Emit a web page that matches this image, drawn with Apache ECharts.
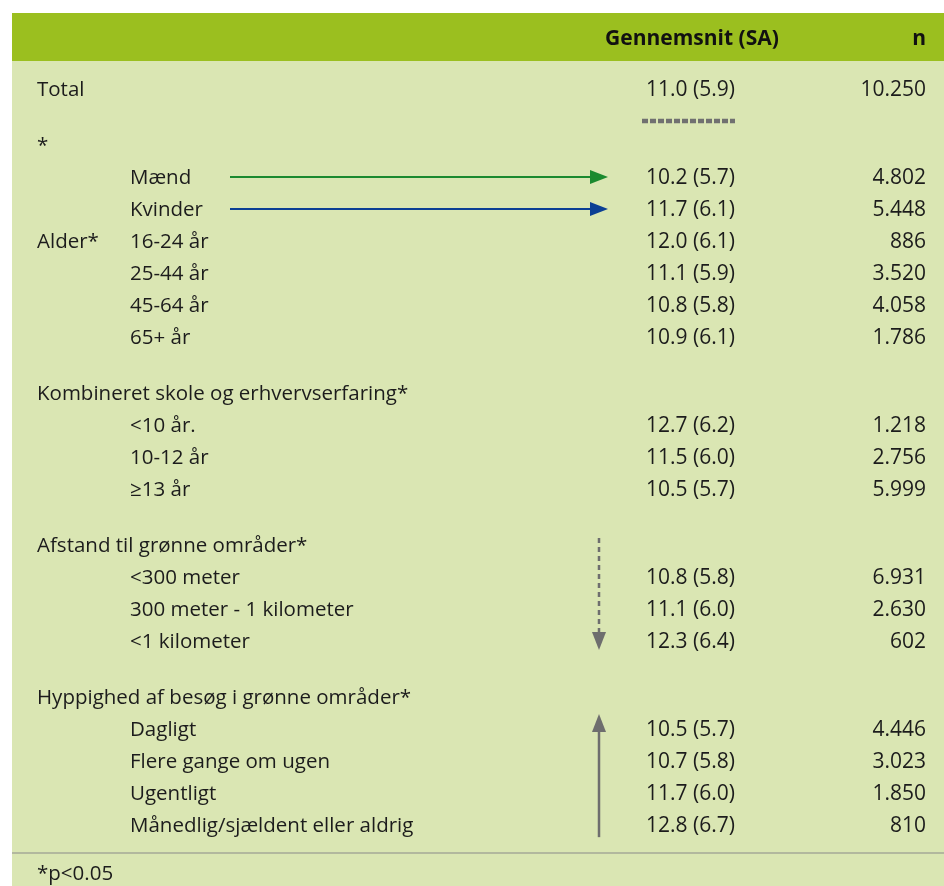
<!DOCTYPE html>
<html>
<head>
<meta charset="utf-8">
<script src="https://cdn.jsdelivr.net/npm/echarts@6/dist/echarts.min.js"></script>
<style>html,body{margin:0;padding:0;background:#fff}#c{width:944px;height:886px}</style>
</head>
<body>
<div id="c"></div>
<script>
// ---- data ----
const columnHeaders = ['Gennemsnit (SA)', 'n'];
const groupLabels = ['Total', '*', '', '', 'Alder*', '', '', '', 'Kombineret skole og erhvervserfaring*', '', '', '', 'Afstand til grønne områder*', '', '', '', 'Hyppighed af besøg i grønne områder*', '', '', '', ''];
const subLabels = ['', '', 'Mænd', 'Kvinder', '16-24 år', '25-44 år', '45-64 år', '65+ år', '', '<10 år.', '10-12 år', '≥13 år', '', '<300 meter', '300 meter - 1 kilometer', '<1 kilometer', '', 'Dagligt', 'Flere gange om ugen', 'Ugentligt', 'Månedlig/sjældent eller aldrig'];
const means = [11.0, null, 10.2, 11.7, 12.0, 11.1, 10.8, 10.9, null, 12.7, 11.5, 10.5, null, 10.8, 11.1, 12.3, null, 10.5, 10.7, 11.7, 12.8];
const sds = [5.9, null, 5.7, 6.1, 6.1, 5.9, 5.8, 6.1, null, 6.2, 6.0, 5.7, null, 5.8, 6.0, 6.4, null, 5.7, 5.8, 6.0, 6.7];
const counts = [10250, null, 4802, 5448, 886, 3520, 4058, 1786, null, 1218, 2756, 5999, null, 6931, 2630, 602, null, 4446, 3023, 1850, 810];
const groupStarts = [1, 8, 12, 16];
const footnote = '*p<0.05';

// ---- layout ----
const GAP = 0.75;
const rowPos = [];
let p = 0;
for (let i = 0; i < subLabels.length; i++) {
  if (i > 0) p += 1 + (groupStarts.includes(i) ? GAP : 0);
  rowPos.push(p);
}
const footPos = rowPos[rowPos.length - 1] + 1.5;
const FONT = '20.5px "Open Sans"';
const NUMFONT = '21px "Open Sans"';
const TXT = '#1c1c1c';
const DY = 1.5;
const fmtN = v => String(v).replace(/\B(?=(\d{3})+(?!\d))/g, '.');

const rowData = subLabels.map((_, i) => [0, rowPos[i], i]);

// annotation arrows: [x0, row0, x1, row1, color, dashed, width]
const arrows = [
  [230, rowPos[2], 608, rowPos[2], '#1b8a2f', false, 2],
  [230, rowPos[3], 608, rowPos[3], '#0b3f94', false, 2],
  [599, rowPos[12] - 0.22, 599, rowPos[15] + 0.28, '#6e6e6e', true, 2.5],
  [599, rowPos[20] + 0.38, 599, rowPos[17] - 0.47, '#6e6e6e', false, 2.5]
];

const chart = echarts.init(document.getElementById('c'), null, {renderer: 'canvas'});
chart.setOption({
  animation: false,
  backgroundColor: '#ffffff',
  grid: {left: 0, right: 0, top: 0, bottom: 0},
  xAxis: {type: 'value', min: 0, max: 944, show: false},
  yAxis: {type: 'value', inverse: true, min: -89 / 32, max: (886 - 89) / 32, show: false},
  graphic: [
    {type: 'rect', z: -10, shape: {x: 12, y: 61, width: 932, height: 825}, style: {fill: '#dae6b3'}},
    {type: 'rect', z: -10, shape: {x: 12, y: 13, width: 932, height: 48}, style: {fill: '#9bbf1f'}},
    {type: 'text', style: {x: 692, y: 39, text: columnHeaders[0], font: 'bold 21px "Open Sans"', fill: '#111', align: 'center', verticalAlign: 'middle'}},
    {type: 'text', style: {x: 926, y: 39, text: columnHeaders[1], font: 'bold 21px "Open Sans"', fill: '#111', align: 'right', verticalAlign: 'middle'}}
  ],
  series: [
    {
      type: 'custom',
      data: rowData,
      encode: {x: 0, y: 1},
      clip: false,
      renderItem: (params, api) => {
        const i = api.value(2);
        const y = api.coord([0, api.value(1)])[1] + DY;
        const ch = [];
        if (groupLabels[i]) ch.push({type: 'text', style: {x: 37, y, text: groupLabels[i], font: FONT, fill: TXT, align: 'left', verticalAlign: 'middle'}});
        if (subLabels[i]) ch.push({type: 'text', style: {x: 130, y, text: subLabels[i], font: FONT, fill: TXT, align: 'left', verticalAlign: 'middle'}});
        if (means[i] != null) ch.push({type: 'text', style: {x: 735, y, text: means[i].toFixed(1) + ' (' + sds[i].toFixed(1) + ')', font: NUMFONT, fill: TXT, align: 'right', verticalAlign: 'middle'}});
        if (counts[i] != null) ch.push({type: 'text', style: {x: 926, y, text: fmtN(counts[i]), font: NUMFONT, fill: TXT, align: 'right', verticalAlign: 'middle'}});
        if (i === 0) {
          const yd = api.coord([0, api.value(1) + 1])[1];
          ch.push({type: 'line', shape: {x1: 642, y1: yd, x2: 735, y2: yd}, style: {stroke: '#707070', lineWidth: 4.5, lineDash: [6, 2]}});
        }
        return {type: 'group', children: ch};
      }
    },
    {
      type: 'custom',
      data: arrows.map((a, k) => [a[0], a[1], a[2], a[3], k]),
      encode: {x: 0, y: 1},
      clip: false,
      renderItem: (params, api) => {
        const k = api.value(4);
        const a = arrows[k];
        const s = api.coord([api.value(0), api.value(1)]);
        const e = api.coord([api.value(2), api.value(3)]);
        const dx = e[0] - s[0], dy = e[1] - s[1];
        const len = Math.sqrt(dx * dx + dy * dy);
        const ux = dx / len, uy = dy / len;
        const hl = 18, hw = 7;
        const bx = e[0] - ux * hl, by = e[1] - uy * hl;
        return {type: 'group', children: [
          {type: 'line', shape: {x1: s[0], y1: s[1], x2: bx, y2: by}, style: {stroke: a[4], lineWidth: a[6], lineDash: a[5] ? [5, 4] : null}},
          {type: 'polygon', shape: {points: [[e[0], e[1]], [bx - uy * hw, by + ux * hw], [bx + uy * hw, by - ux * hw]]}, style: {fill: a[4]}}
        ]};
      }
    },
    {
      type: 'custom',
      data: [[0, footPos]],
      encode: {x: 0, y: 1},
      clip: false,
      renderItem: (params, api) => {
        const y = api.coord([0, api.value(1)])[1] + DY;
        const yl = api.coord([0, api.value(1) - 0.625])[1];
        return {type: 'group', children: [
          {type: 'line', shape: {x1: 12, y1: yl, x2: 944, y2: yl}, style: {stroke: '#8a8a8a', lineWidth: 1.2}},
          {type: 'text', style: {x: 37, y, text: footnote, font: FONT, fill: TXT, align: 'left', verticalAlign: 'middle'}}
        ]};
      }
    }
  ]
});
</script>
</body>
</html>
